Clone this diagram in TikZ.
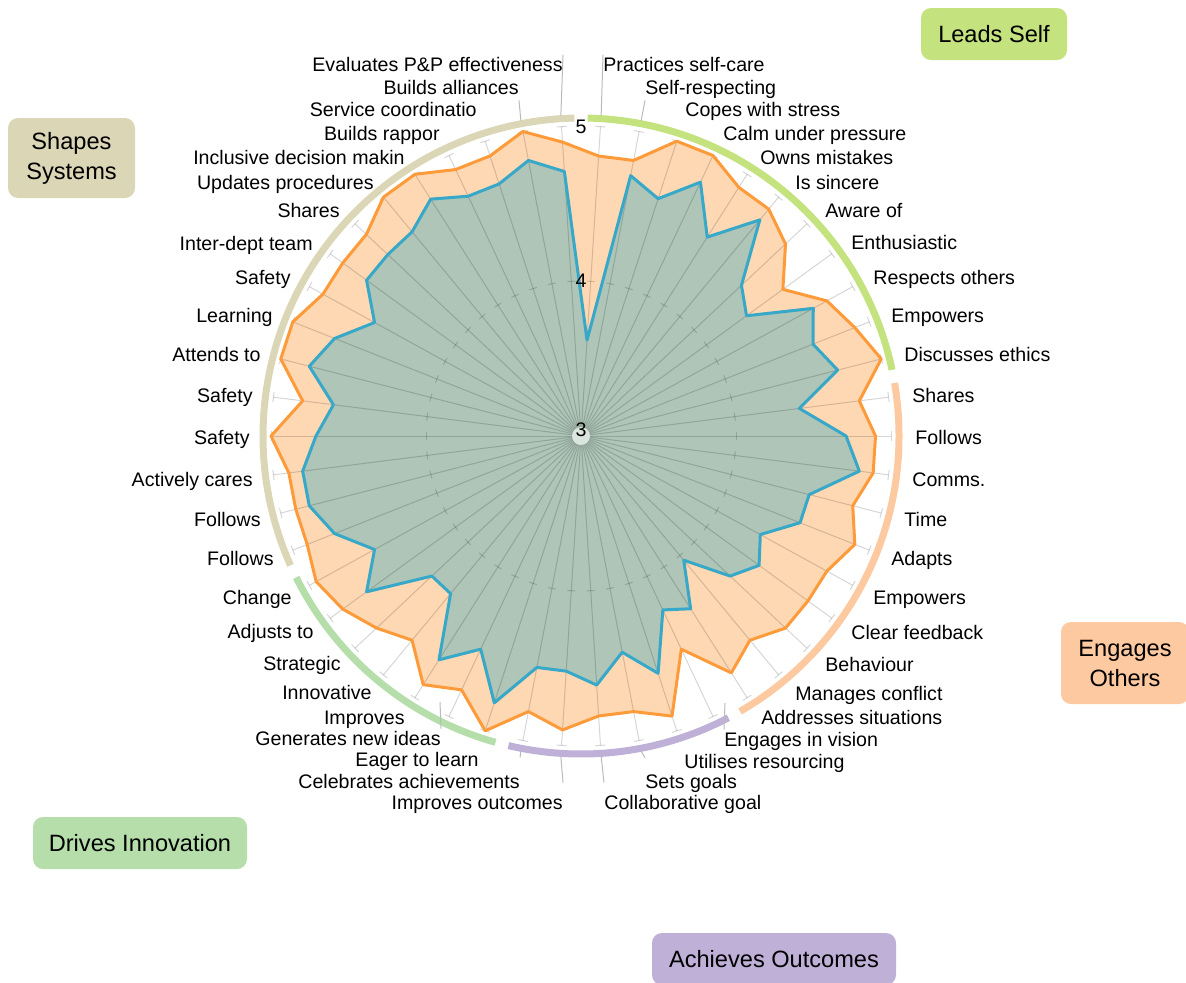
\documentclass[tikz,border=0pt]{standalone}
\usepackage{fontspec}
\setmainfont{Liberation Sans}
\usepackage{tikz}
\definecolor{lsgreen}{HTML}{C4E27D}
\definecolor{eopeach}{HTML}{FDC9A0}
\definecolor{aopurple}{HTML}{BFB0D7}
\definecolor{digreen}{HTML}{B5DEAB}
\definecolor{sstan}{HTML}{DBD6B6}
\definecolor{hiline}{HTML}{FD9B3A}
\definecolor{hifill}{HTML}{FED8B3}
\definecolor{loline}{HTML}{38A8C8}
\definecolor{lofill}{HTML}{AEC5B8}

\def\hidata{4.81,4.81,5.00,5.00,4.90,4.90,4.81,4.61,4.81,4.90,
5.00,4.81,4.90,4.90,4.81,4.90,4.81,4.81,4.81,4.71,
4.81,4.52,4.90,4.81,4.81,4.90,4.81,5.00,4.81,4.90,
4.71,4.81,4.90,4.95,4.90,4.90,4.90,5.00,4.81,5.00,
5.00,4.90,4.90,4.90,5.00,5.00,4.90,4.90,5.00,4.90}
\def\lodata{3.62,4.71,4.61,4.81,4.52,4.81,4.42,4.32,4.71,4.61,
4.71,4.42,4.71,4.81,4.52,4.52,4.32,4.42,4.32,4.04,
4.32,4.24,4.61,4.42,4.61,4.52,4.52,4.81,4.52,4.71,
4.32,4.32,4.71,4.52,4.71,4.81,4.81,4.71,4.61,4.81,
4.71,4.52,4.71,4.71,4.71,4.81,4.71,4.71,4.81,4.71}

\begin{document}
\begin{tikzpicture}[x=0.5pt,y=-0.5pt,
  axisline/.style={draw=black,opacity=0.16,line width=0.5pt},
  ring/.style={line width=3.5pt},
  lbl/.style={font=\fontsize{9.8}{11}\selectfont,inner xsep=0pt,inner ysep=1pt,text height=7pt,text depth=2pt},
  val/.style={font=\fontsize{9.8}{11}\selectfont,inner sep=0pt},
  grp/.style={rounded corners=5pt,font=\fontsize{11.8}{15}\selectfont,align=center,inner sep=0pt},
  leader/.style={draw=black!27,line width=0.5pt}]
\useasboundingbox (0,0) rectangle (1186,982);

\begin{scope}[shift={(581,436)},yscale=-1]
  \fill[hifill] (86.4:{1.81*155}) \foreach \v [count=\i from 0] in \hidata {-- ({86.4-7.2*\i}:{(\v-3)*155})} -- cycle;
  \fill[lofill] (86.4:{0.62*155}) \foreach \v [count=\i from 0] in \lodata {-- ({86.4-7.2*\i}:{(\v-3)*155})} -- cycle;
  \foreach \i in {0,...,49}{
    \pgfmathsetmacro\a{86.4-7.2*\i}
    \draw[axisline] (0,0) -- (\a:310);
    \draw[axisline] (\a:310) ++(\a+90:5) -- ++(\a-90:10);
    \draw[axisline] (\a:155) ++(\a+90:4) -- ++(\a-90:8);
  }
  \fill[lofill!45!white] (0,0) circle[radius=9];
  \draw[hiline,line width=1.5pt,line join=round] (86.4:{1.81*155}) \foreach \v [count=\i from 0] in \hidata {-- ({86.4-7.2*\i}:{(\v-3)*155})} -- cycle;
  \draw[loline,line width=1.5pt,line join=round] (86.4:{0.62*155}) \foreach \v [count=\i from 0] in \lodata {-- ({86.4-7.2*\i}:{(\v-3)*155})} -- cycle;

  \draw[ring,lsgreen] (88.8:318) arc[start angle=88.8,end angle=12,radius=318];
  \draw[ring,eopeach] (9.6:318) arc[start angle=9.6,end angle=-60,radius=318];
  \draw[ring,aopurple] (-62.4:318) arc[start angle=-62.4,end angle=-103.2,radius=318];
  \draw[ring,digreen] (-105.6:318) arc[start angle=-105.6,end angle=-153.6,radius=318];
  \draw[ring,sstan] (-156:318) arc[start angle=-156,end angle=-268.8,radius=318];

  \foreach \i in {0,1,23,24,25,26,48,49}
    \coordinate (p\i) at ({86.4-7.2*\i}:321);
\end{scope}
\coordinate (v21) at (725,703);
\coordinate (v28) at (440,702);

\foreach \x/\y/\t [count=\i from 0] in {603/66/Practices self-care, 645/89/Self-respecting,
  685/111/Copes with stress, 723/135/Calm under pressure, 760/159/Owns mistakes,
  795/184/Is sincere, 825/212/Aware of, 851/244/Enthusiastic, 873/279/Respects others,
  891/317/Empowers, 904/356/Discusses ethics, 912/397/Shares, 915/439/Follows,
  912/481/Comms., 904/521/Time, 891/560/Adapts, 873/599/Empowers, 851/634/Clear feedback,
  825/666/Behaviour, 795/695/Manages conflict, 761/719/Addresses situations,
  724/741/Engages in vision, 684/763/Utilises resourcing, 645/783/Sets goals,
  604/804/Collaborative goal}
  \node[lbl,anchor=west] (l\i) at (\x,\y) {\t};
\foreach \x/\y/\t [count=\i from 25] in {563/804/Improves outcomes, 520/783/Celebrates achievements,
  479/761/Eager to learn, 441/740/Generates new ideas, 405/719/Improves, 372/694/Innovative,
  341/665/Strategic, 314/633/Adjusts to, 292/599/Change, 274/560/Follows, 261/521/Follows,
  253/481/Actively cares, 250/439/Safety, 253/397/Safety, 261/356/Attends to, 273/317/Learning,
  291/279/Safety, 313/245/Inter-dept team, 340/212/Shares, 374/184/Updates procedures,
  405/159/Inclusive decision makin, 440/135/Builds rappor, 477/111/Service coordinatio,
  519/89/Builds alliances, 563/66/Evaluates P\&P effectiveness}
  \node[lbl,anchor=east] (l\i) at (\x,\y) {\t};

\draw[leader] (p0) -- (l0.north west);
\draw[leader] (p1) -- (l1.south west);
\draw[leader] (v21) -- (l21.north west);
\draw[leader] (p23) -- ([yshift=7pt]l23.north west);
\draw[leader] (p24) -- ([yshift=5pt]l24.north west);
\draw[leader] (p25) -- ([yshift=5pt]l25.north east);
\draw[leader] (p26) -- ([yshift=7pt]l26.north east);
\draw[leader] (v28) -- (l28.north east);
\draw[leader] (p48) -- (l48.south east);
\draw[leader] (p49) -- (l49.north east);

\node[val] (tick3) at (581,430) {3};
\node[val] (tick4) at (581,281) {4};
\node[val] (tick5) at (581,127) {5};

\node[grp,fill=lsgreen,minimum width=73pt,minimum height=26pt] (leads) at (994,34) {Leads Self};
\node[grp,fill=sstan,minimum width=63.5pt,minimum height=40pt] (shapes) at (71.5,158) {Shapes\\Systems};
\node[grp,fill=eopeach,minimum width=64pt,minimum height=41pt] (engages) at (1125,663) {Engages\\Others};
\node[grp,fill=digreen,minimum width=107pt,minimum height=26pt] (drives) at (140,843) {Drives Innovation};
\node[grp,fill=aopurple,minimum width=122pt,minimum height=26pt] (achieves) at (774,959) {Achieves Outcomes};
\end{tikzpicture}
\end{document}
